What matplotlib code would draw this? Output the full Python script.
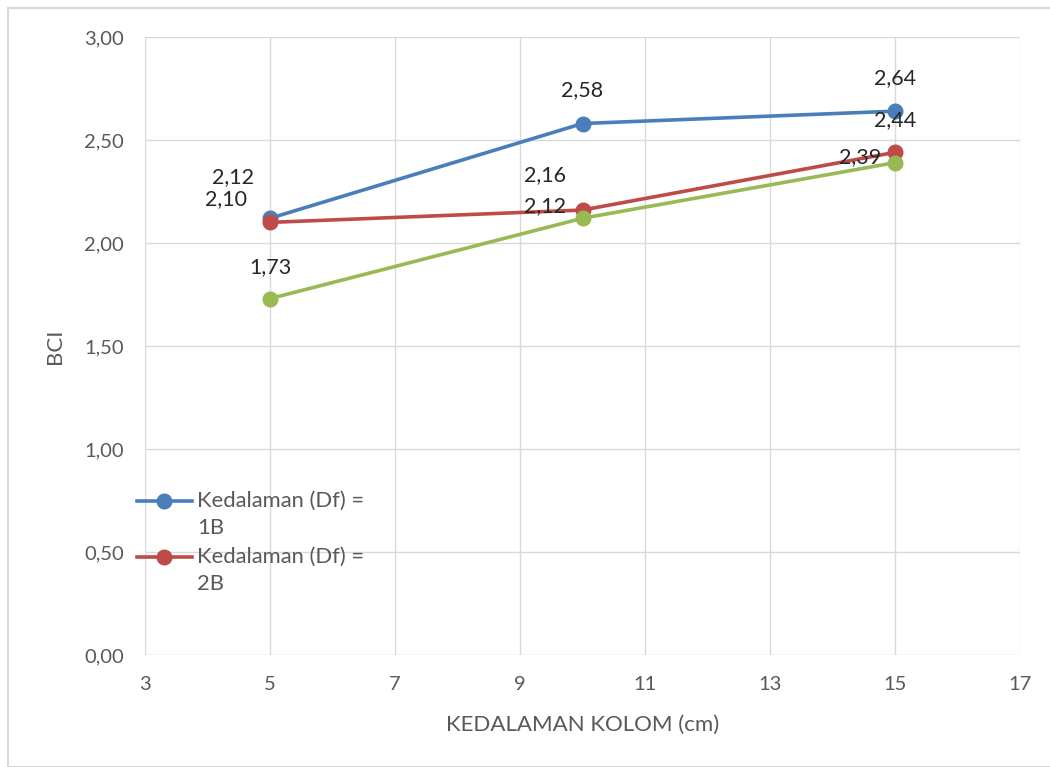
import matplotlib
matplotlib.use("Agg")
import matplotlib.pyplot as plt
from matplotlib.patches import Rectangle
from matplotlib.lines import Line2D

plt.rcParams['font.family'] = ['Lato', 'DejaVu Sans']

depth_cm = [5, 10, 15]
bci_1b = [2.12, 2.58, 2.64]
bci_2b = [2.10, 2.16, 2.44]
bci_3b = [1.73, 2.12, 2.39]
series_names = ["Kedalaman (Df) =\n1B", "Kedalaman (Df) =\n2B", "Kedalaman (Df) =\n3B"]
x_ticks = [3, 5, 7, 9, 11, 13, 15, 17]
y_ticks = [0.0, 0.5, 1.0, 1.5, 2.0, 2.5, 3.0]

colors = ["#4A7EBB", "#BE4B48", "#98B954"]
# data-label offsets in points (dx, dy) per series and point
offsets = [
    [(-27, 30), (0, 24), (0, 24)],
    [(-32, 17), (-27, 25), (0, 23)],
    [(0, 23), (-27, 9), (-25, 4)],
]

W, H = 1050, 767
fig = plt.figure(figsize=(W / 100, H / 100), dpi=100)
ax = fig.add_axes([145 / W, 1 - 655 / H, 875 / W, 618 / H])

lines = []
for vals, col, name, offs in zip([bci_1b, bci_2b, bci_3b], colors, series_names, offsets):
    ln, = ax.plot(depth_cm, vals, color=col, lw=2.6, marker='o', markersize=10.5,
                  label=name, zorder=3)
    lines.append(ln)
    for x, y, (dx, dy) in zip(depth_cm, vals, offs):
        ax.annotate(f"{y:.2f}".replace('.', ','), (x, y), xytext=(dx, dy),
                    textcoords='offset points', ha='center', va='center',
                    fontsize=15.5, color='#262626', zorder=4)

ax.set_xlim(3, 17)
ax.set_ylim(0, 3)
ax.set_xticks(x_ticks)
ax.set_yticks(y_ticks)
ax.set_yticklabels([f"{v:.2f}".replace('.', ',') for v in y_ticks])
ax.grid(True, color='#D9D9D9', lw=1)
ax.set_axisbelow(True)
for s in ax.spines.values():
    s.set_visible(False)
ax.tick_params(length=0, labelsize=14.5, colors='#595959')
ax.tick_params(axis='y', pad=15)
ax.tick_params(axis='x', pad=15)
ax.set_xlabel("KEDALAMAN KOLOM (cm)", fontsize=16, color='#595959', labelpad=16)
ax.set_ylabel("BCI", fontsize=16, color='#595959', labelpad=14)


def fx(px):
    return px / W


def fy(py):
    return 1 - py / H


# legend: marker line aligned with the first text line of each entry
for i, ln in enumerate(lines[:2]):
    y0 = 501 + i * 56
    fig.add_artist(Line2D([fx(137), fx(192)], [fy(y0), fy(y0)],
                          transform=fig.transFigure, color=ln.get_color(), lw=2.6))
    fig.add_artist(Line2D([fx(164)], [fy(y0)], transform=fig.transFigure,
                          color=ln.get_color(), marker='o', markersize=10.5, lw=0))
    for j, part in enumerate(ln.get_label().split('\n')):
        fig.text(fx(197), fy(y0 + j * 27), part, fontsize=15.8, color='#595959',
                 ha='left', va='center')

fig.patches.append(Rectangle((fx(8), 0), 1.0, fy(8), transform=fig.transFigure,
                             fill=False, edgecolor='#D9D9D9', lw=1.5))

fig.savefig("out.png", dpi=100)
